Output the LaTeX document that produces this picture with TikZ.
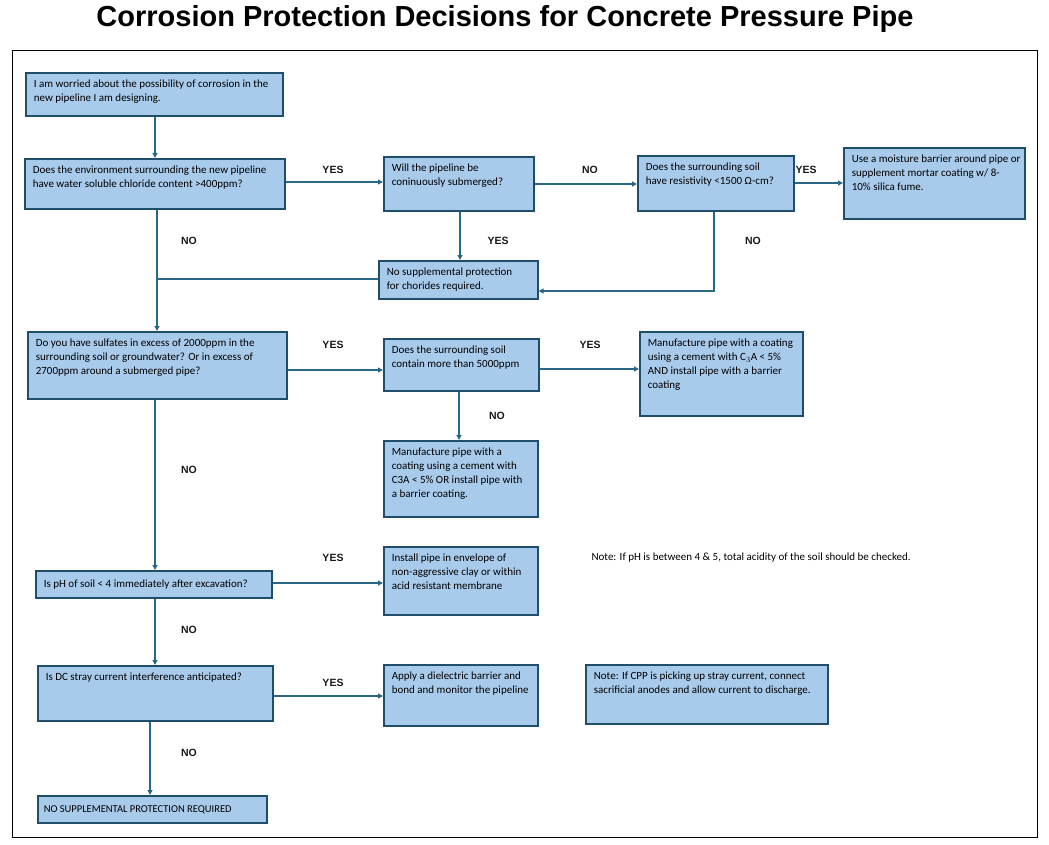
\documentclass[tikz,border=0pt]{standalone}
\usepackage{fontspec}
\setmainfont{Carlito}
\newfontfamily\titlefont{Liberation Sans}
\newfontfamily\lblfont{Liberation Sans}
\usetikzlibrary{arrows.meta}
\definecolor{boxfill}{HTML}{A9CBEB}
\definecolor{boxline}{HTML}{1F4E6B}
\definecolor{conn}{HTML}{2A6686}
\tikzset{
  box/.style={draw=boxline, line width=1.6pt, fill=boxfill, anchor=north west, inner xsep=8pt, inner ysep=5pt, font=\fontsize{11}{14}\selectfont, text=black},
  flow/.style={draw=conn, line width=1.6pt, -{Triangle[length=5pt,width=5pt]}},
  plain/.style={draw=conn, line width=1.2pt},
  lbl/.style={font=\lblfont\bfseries\fontsize{10.5}{12}\selectfont, text=black!90}
}
\newcommand{\bx}[6]{%
  \node[box] (#1) at (#2,#3) {\parbox[c][\dimexpr #5pt-10pt\relax][t]{\dimexpr #4pt-16pt\relax}{\begin{tabular}[t]{@{}l@{}}#6\end{tabular}}};}
\newcommand{\bxc}[6]{%
  \node[box] (#1) at (#2,#3) {\parbox[c][\dimexpr #5pt-10pt\relax][c]{\dimexpr #4pt-16pt\relax}{#6}};}
\begin{document}
\begin{tikzpicture}[x=1pt,y=-1pt]
\useasboundingbox (0,0) rectangle (1049,845);
\node[font=\titlefont\bfseries\fontsize{29}{32}\selectfont] (title) at (505,19) {Corrosion Protection Decisions for Concrete Pressure Pipe};
\draw[black, line width=0.9pt] (12,50) rectangle (1037,837);

\bx{b1}{25}{72}{257}{43}{I am worried about the possibility of corrosion in the\\new pipeline I am designing.}
\bx{b2}{24}{158}{260}{50}{Does the environment surrounding the new pipeline\\have water soluble chloride content >400ppm?}
\bx{b3}{383}{156}{150}{54}{Will the pipeline be\\coninuously submerged?}
\bx{b4}{637}{155}{156}{55}{Does the surrounding soil\\have resistivity <1500 \char"03A9-cm?}
\bx{b5}{843}{147}{181}{71}{Use a moisture barrier around pipe or\\supplement mortar coating w/ 8-\\10\% silica fume.}
\bx{b6}{378}{260}{159}{38}{No supplemental protection\\for chorides required.}
\bx{b7}{27}{331}{259}{67}{Do you have sulfates in excess of 2000ppm in the\\surrounding soil or groundwater? Or in excess of\\2700ppm around a submerged pipe?}
\bx{b8}{383}{338}{155}{52}{Does the surrounding soil\\contain more than 5000ppm}
\bx{b9}{639}{331}{163}{84}{Manufacture pipe with a coating\\using a cement with C$_3$A < 5\%\\AND install pipe with a barrier\\coating}
\bx{b10}{383}{440}{154}{76}{Manufacture pipe with a\\coating using a cement with\\C3A < 5\% OR install pipe with\\a barrier coating.}
\bxc{b11}{35}{570}{236}{27}{Is pH of soil < 4 immediately after excavation?}
\bx{b12}{383}{546}{154}{68}{Install pipe in envelope of\\non-aggressive clay or within\\acid resistant membrane}
\bx{b13}{37}{665}{235}{55}{Is DC stray current interference anticipated?}
\bx{b14}{383}{664}{154}{61}{Apply a dielectric barrier and\\bond and monitor the pipeline}
\bx{n2}{585}{664}{242}{59}{Note: If CPP is picking up stray current, connect\\sacrificial anodes and allow current to discharge.}
\node[box, inner xsep=6pt] (b15) at (37,795) {\parbox[c][17pt][c]{217pt}{\fontsize{10.5}{14}\selectfont NO SUPPLEMENTAL PROTECTION REQUIRED}};

\node[anchor=west, font=\fontsize{11}{13}\selectfont, text=black] (n1) at (588,558) {Note: If pH is between 4 \& 5, total acidity of the soil should be checked.};

% connectors
\draw[flow] (b1.south -| 155,0) -- (b2.north -| 155,0);
\draw[flow] (b2.east |- 0,182) -- (b3.west |- 0,182);
\draw[flow] (b3.east |- 0,184) -- (b4.west |- 0,184);
\draw[flow] (b4.east |- 0,183) -- (b5.west |- 0,183);
\draw[flow] (b3.south -| 460,0) -- (b6.north -| 460,0);
\draw[flow] (b4.south -| 714,0) -- (714,291) -- (b6.east |- 0,291);
\draw[flow] (b2.south -| 157,0) -- (b7.north -| 157,0);
\draw[plain] (b6.west |- 0,279) -- (157,279);
\draw[flow] (b7.east |- 0,370) -- (b8.west |- 0,370);
\draw[flow] (b8.east |- 0,369) -- (b9.west |- 0,369);
\draw[flow] (b8.south -| 459,0) -- (b10.north -| 459,0);
\draw[flow] (b7.south -| 155,0) -- (b11.north -| 155,0);
\draw[flow] (b11.east |- 0,583) -- (b12.west |- 0,583);
\draw[flow] (b11.south -| 155,0) -- (b13.north -| 155,0);
\draw[flow] (b13.east |- 0,696) -- (b14.west |- 0,696);
\draw[flow] (b13.south -| 150,0) -- (b15.north -| 150,0);

% labels
\node[lbl] (l1) at (333,170) {YES};
\node[lbl] (l2) at (590,170) {NO};
\node[lbl] (l3) at (806,170) {YES};
\node[lbl] (l4) at (498,241) {YES};
\node[lbl] (l5) at (753,241) {NO};
\node[lbl] (l6) at (189,241) {NO};
\node[lbl] (l7) at (333,345) {YES};
\node[lbl] (l8) at (590,345) {YES};
\node[lbl] (l9) at (497,416) {NO};
\node[lbl] (l10) at (189,470) {NO};
\node[lbl] (l11) at (333,558) {YES};
\node[lbl] (l12) at (189,630) {NO};
\node[lbl] (l13) at (333,683) {YES};
\node[lbl] (l14) at (189,753) {NO};
\end{tikzpicture}
\end{document}
